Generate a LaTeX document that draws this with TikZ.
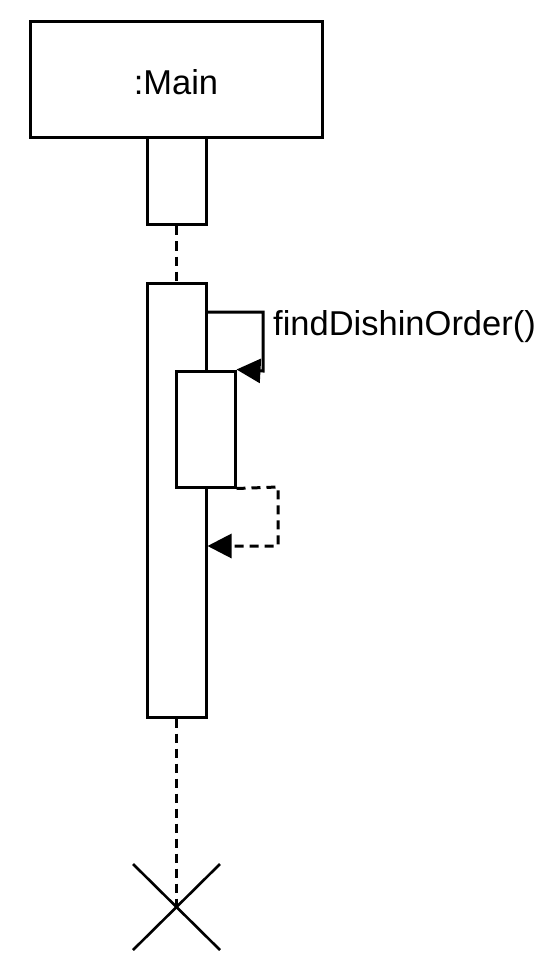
\documentclass[tikz,border=0pt]{standalone}
\usepackage{fontspec}
\setmainfont{Liberation Sans}
\usetikzlibrary{arrows.meta}
\begin{document}
\begin{tikzpicture}[x=1pt,y=-1pt,
  box/.style={draw=black,line width=3pt,fill=white,inner sep=0pt},
  lifeline/.style={line width=3pt,dash pattern=on 9pt off 6pt},
  msg/.style={line width=3pt,-{Triangle[length=24pt,width=24pt]}},
  ret/.style={msg,dash pattern=on 9pt off 6pt},
  lbl/.style={font=\fontsize{34.5}{40}\selectfont,inner sep=0pt}]
\useasboundingbox (0,0) rectangle (559,968);
% lifeline segments
\coordinate (xend) at (176.5,908);
\node[box,minimum width=59pt,minimum height=87pt] (act1) at (176.5,181.5) {};
\node[box,minimum width=59pt,minimum height=434pt] (act2) at (176.5,500) {};
\draw[lifeline] (act1.south) -- (act2.north);
\draw[lifeline] (act2.south) -- (xend);
\node[box,minimum width=292pt,minimum height=116pt] (main) at (176,80) {};
\node[lbl,anchor=base] (maintxt) at (176,95) {:Main};
% nested activation
\node[box,minimum width=59pt,minimum height=116pt] (act3) at (205.5,429) {};
% self call
\coordinate (c1) at (263,312);
\coordinate (c2) at (263,371);
\draw[msg] (act2.east |- c1) -- (c1) -- (c2) -- (act3.north east);
\node[lbl,anchor=base west] (call) at (273,335) {findDishinOrder()};
% return
\coordinate (r1) at (278,487);
\coordinate (r2) at (278,546);
\draw[ret] (act3.south east) -- (r1) -- (r2) -- (act2.east |- r2);
% destruction
\coordinate (x1) at (133,864);
\coordinate (x2) at (220,950);
\coordinate (x3) at (220,864);
\coordinate (x4) at (133,950);
\draw[line width=2.6pt] (x1) -- (x2);
\draw[line width=2.6pt] (x3) -- (x4);
\end{tikzpicture}
\end{document}
